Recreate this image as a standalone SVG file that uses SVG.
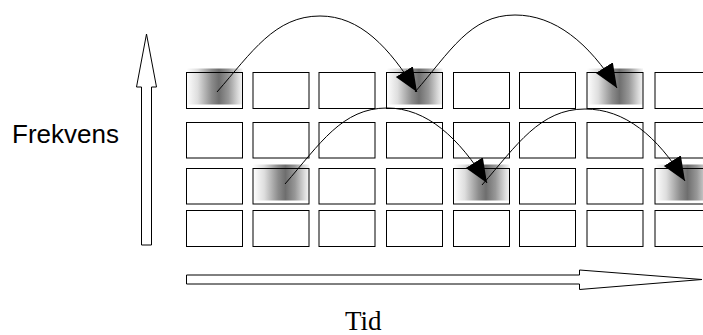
<svg xmlns="http://www.w3.org/2000/svg" width="703" height="335" viewBox="0 0 703 335">
<style>
.cell{fill:none;stroke:#000;stroke-width:1}
.shade{fill:url(#g)}
.arc{fill:none;stroke:#000;stroke-width:1;marker-end:url(#ah)}
.big{fill:#fff;stroke:#000;stroke-width:1}
.lbl{font-family:"Liberation Sans",Arial,sans-serif;font-size:26px;fill:#000}
.lbl2{font-family:"Liberation Serif","Times New Roman",serif;font-size:27px;fill:#000}
</style>
<defs>
<linearGradient id="g" x1="0" y1="0" x2="1" y2="0">
<stop offset="0" stop-color="#ffffff"/>
<stop offset="0.2" stop-color="#dedede"/>
<stop offset="0.45" stop-color="#8c8c8c"/>
<stop offset="0.58" stop-color="#6e6e6e"/>
<stop offset="0.75" stop-color="#989898"/>
<stop offset="0.92" stop-color="#dadada"/>
<stop offset="1" stop-color="#f5f5f5"/>
</linearGradient>
<marker id="ah" markerUnits="userSpaceOnUse" markerWidth="25" markerHeight="21" refX="24" refY="10" orient="auto">
<path d="M0,0 L24,10 L0,20 z" fill="#000"/>
</marker>
</defs>
<g id="shading">
<rect class="shade" x="186.5" y="68.5" width="56" height="36"/>
<rect class="shade" x="386.5" y="68.5" width="56" height="36"/>
<rect class="shade" x="587" y="68.5" width="56" height="36"/>
<rect class="shade" x="253" y="164.5" width="56" height="36"/>
<rect class="shade" x="453.5" y="164.5" width="56" height="36"/>
<rect class="shade" x="655" y="164.5" width="56" height="36"/>
</g>
<g id="grid">
<g id="row1">
<rect class="cell" x="186.5" y="72.5" width="56" height="36"/>
<rect class="cell" x="253" y="72.5" width="56" height="36"/>
<rect class="cell" x="319" y="72.5" width="56" height="36"/>
<rect class="cell" x="386.5" y="72.5" width="56" height="36"/>
<rect class="cell" x="453.5" y="72.5" width="56" height="36"/>
<rect class="cell" x="519.5" y="72.5" width="56" height="36"/>
<rect class="cell" x="587" y="72.5" width="56" height="36"/>
<rect class="cell" x="655" y="72.5" width="56" height="36"/>
</g>
<g id="row2">
<rect class="cell" x="186.5" y="122.5" width="56" height="35.5"/>
<rect class="cell" x="253" y="122.5" width="56" height="35.5"/>
<rect class="cell" x="319" y="122.5" width="56" height="35.5"/>
<rect class="cell" x="386.5" y="122.5" width="56" height="35.5"/>
<rect class="cell" x="453.5" y="122.5" width="56" height="35.5"/>
<rect class="cell" x="519.5" y="122.5" width="56" height="35.5"/>
<rect class="cell" x="587" y="122.5" width="56" height="35.5"/>
<rect class="cell" x="655" y="122.5" width="56" height="35.5"/>
</g>
<g id="row3">
<rect class="cell" x="186.5" y="168.5" width="56" height="35.5"/>
<rect class="cell" x="253" y="168.5" width="56" height="35.5"/>
<rect class="cell" x="319" y="168.5" width="56" height="35.5"/>
<rect class="cell" x="386.5" y="168.5" width="56" height="35.5"/>
<rect class="cell" x="453.5" y="168.5" width="56" height="35.5"/>
<rect class="cell" x="519.5" y="168.5" width="56" height="35.5"/>
<rect class="cell" x="587" y="168.5" width="56" height="35.5"/>
<rect class="cell" x="655" y="168.5" width="56" height="35.5"/>
</g>
<g id="row4">
<rect class="cell" x="186.5" y="210.5" width="56" height="36"/>
<rect class="cell" x="253" y="210.5" width="56" height="36"/>
<rect class="cell" x="319" y="210.5" width="56" height="36"/>
<rect class="cell" x="386.5" y="210.5" width="56" height="36"/>
<rect class="cell" x="453.5" y="210.5" width="56" height="36"/>
<rect class="cell" x="519.5" y="210.5" width="56" height="36"/>
<rect class="cell" x="587" y="210.5" width="56" height="36"/>
<rect class="cell" x="655" y="210.5" width="56" height="36"/>
</g>
</g>
<g id="connectors">
<path class="arc" d="M217,92 C252,52 275,16 320,16 C360,16 389,47 417,92"/>
<path class="arc" d="M415,92 C450,52 470,15 515,15 C555,15 589,43 617,88"/>
<path class="arc" d="M285,184 C320,144 342,108 387,108 C427,108 459,138 487,183"/>
<path class="arc" d="M482,185 C517,145 540,109 585,109 C625,109 657,136 685,181"/>
</g>
<g id="axis-frekvens">
<path class="big" d="M141.5,245 L141.5,87 L136.5,87 L146.5,34 L156.5,87 L151.5,87 L151.5,245 Z"/>
<text class="lbl" x="12" y="143">Frekvens</text>
</g>
<g id="axis-tid">
<path class="big" d="M186.5,275 L579.5,275 L579.5,270 L702,279.5 L579.5,289.5 L579.5,284 L186.5,284 Z"/>
<text class="lbl2" x="345" y="330">Tid</text>
</g>
</svg>
